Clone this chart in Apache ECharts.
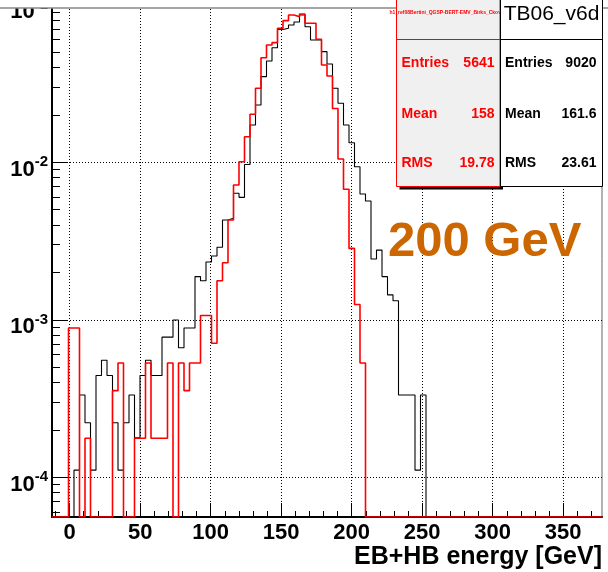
<!DOCTYPE html>
<html><head><meta charset="utf-8">
<script src="https://cdn.jsdelivr.net/npm/echarts@6/dist/echarts.min.js"></script>
<style>html,body{margin:0;padding:0;background:#fff}#c{width:608px;height:572px}</style>
</head><body><div id="c"></div>
<script>
// ---- binning / axes ----
const binStart = -12.5;
const binWidth = 3.9;
const xMin = -12.5, xMax = 377.5;
const yMin = 5.596e-5, yMax = 0.10727;
const xMajorTicks = [0, 50, 100, 150, 200, 250, 300, 350];
const xMinorTicks = [-10, 10, 20, 30, 40, 60, 70, 80, 90, 110, 120, 130, 140, 160, 170, 180, 190, 210, 220, 230, 240, 260, 270, 280, 290, 310, 320, 330, 340, 360, 370];
const yMajorTicks = [1e-4, 1e-3, 1e-2, 1e-1];
const yMinorTicks = [6e-5, 7e-5, 8e-5, 9e-5, 2e-4, 3e-4, 4e-4, 5e-4, 6e-4, 7e-4, 8e-4, 9e-4, 2e-3, 3e-3, 4e-3, 5e-3, 6e-3, 7e-3, 8e-3, 9e-3, 2e-2, 3e-2, 4e-2, 5e-2, 6e-2, 7e-2, 8e-2, 9e-2];

// ---- series values (normalised bin contents, bins 0..99) ----
const tb06Values = [
  0, 0, 0, 0, 1.11e-4, 3.33e-4, 2.22e-4, 1.11e-4, 4.43e-4, 5.54e-4,
  4.43e-4, 2.22e-4, 1.11e-4, 2.22e-4, 3.33e-4, 1.78e-4, 4.43e-4, 5.54e-4, 4.43e-4, 4.43e-4,
  7.76e-4, 7.76e-4, 9.98e-4, 6.65e-4, 8.87e-4, 8.87e-4, 1.88e-3, 1.77e-3, 2.33e-3, 2.54e-3,
  2.89e-3, 4.30e-3, 4.41e-3, 6.36e-3, 5.99e-3, 9.68e-3, 0.01725, 0.0231, 0.0350, 0.0440,
  0.0534, 0.0697, 0.0709, 0.0744, 0.0777, 0.0861, 0.0726, 0.0598, 0.0598, 0.0504,
  0.0421, 0.0295, 0.0237, 0.01725, 0.01332, 9.38e-3, 6.29e-3, 5.68e-3, 2.43e-3, 2.77e-3,
  1.88e-3, 1.44e-3, 1.32e-3, 3.33e-4, 3.33e-4, 3.33e-4, 1.11e-4, 3.33e-4, 0, 0,
  0, 0, 0, 0, 0, 0, 0, 0, 0, 0,
  0, 0, 0, 0, 0, 0, 0, 0, 0, 0,
  0, 0, 0, 0, 0, 0, 0, 0, 0, 0
];
const refValues = [
  0, 0, 0, 8.86e-4, 8.86e-4, 0, 1.77e-4, 0, 0, 0,
  0, 3.55e-4, 5.32e-4, 0, 0, 1.77e-4, 1.77e-4, 5.32e-4, 1.77e-4, 1.77e-4,
  1.77e-4, 5.32e-4, 0, 5.32e-4, 3.55e-4, 5.32e-4, 5.32e-4, 1.064e-3, 1.064e-3, 7.09e-4,
  1.77e-3, 2.30e-3, 4.30e-3, 7.18e-3, 0.01009, 0.01454, 0.02018, 0.0295, 0.0461, 0.0556,
  0.0575, 0.0709, 0.0793, 0.0861, 0.0840, 0.0874, 0.0763, 0.0763, 0.0604, 0.0415,
  0.0353, 0.02196, 0.0105, 6.74e-3, 2.84e-3, 1.25e-3, 5.32e-4, 0, 0, 0,
  0, 0, 0, 0, 0, 0, 0, 0, 0, 0,
  0, 0, 0, 0, 0, 0, 0, 0, 0, 0,
  0, 0, 0, 0, 0, 0, 0, 0, 0, 0,
  0, 0, 0, 0, 0, 0, 0, 0, 0, 0
];

// ---- stats text ----
const refStatsTitle = 'h1_ref08Bertini_QGSP-BERT-EMV_Birks_Ckov10';
const refStats = [['Entries', '5641'], ['Mean', '158'], ['RMS', '19.78']];
const tbStatsTitle = 'TB06_v6d';
const tbStats = [['Entries', '9020'], ['Mean', '161.6'], ['RMS', '23.61']];
const energyLabel = '200 GeV';
const xTitle = 'EB+HB energy [GeV]';

const FONT = "'Liberation Sans', Arial, Helvetica, sans-serif";

function histData(vals) {
  const d = vals.map((v, k) => [binStart + k * binWidth, v > 0 ? v : yMin]);
  const last = vals[vals.length - 1];
  d.push([binStart + vals.length * binWidth, last > 0 ? last : yMin]);
  return d;
}

const statRowsY = [63.5, 114.5, 163.5];
const graphics = [];
const ZL = 1;
// picture top edge
graphics.push({type: 'rect', zlevel: ZL, z: 90, shape: {x: 0, y: 0, width: 608, height: 8}, style: {fill: '#fff'}});
graphics.push({type: 'line', zlevel: ZL, z: 91, shape: {x1: 0, y1: 8, x2: 608, y2: 8}, style: {stroke: '#888', lineWidth: 1.5}});
// red stats box
graphics.push({type: 'rect', zlevel: ZL, z: 100, shape: {x: 399.5, y: -5, width: 103.5, height: 194.5}, style: {fill: '#000'}});
graphics.push({type: 'rect', zlevel: ZL, z: 101, shape: {x: 396.5, y: -5, width: 103.5, height: 191.5}, style: {fill: '#f0f0f0', stroke: '#ff0000', lineWidth: 1}});
graphics.push({type: 'line', zlevel: ZL, z: 102, shape: {x1: 396.5, y1: 39.5, x2: 500, y2: 39.5}, style: {stroke: '#ff0000', lineWidth: 1}});
graphics.push({type: 'text', zlevel: ZL, z: 103, style: {text: refStatsTitle, x: 448, y: 13, fill: '#ff0000', font: 'bold 5px ' + FONT, align: 'center', verticalAlign: 'middle'}});
refStats.forEach((r, i) => {
  graphics.push({type: 'text', zlevel: ZL, z: 103, style: {text: r[0], x: 401.5, y: statRowsY[i], fill: '#ff0000', font: 'bold 14px ' + FONT, align: 'left', verticalAlign: 'middle'}});
  graphics.push({type: 'text', zlevel: ZL, z: 103, style: {text: r[1], x: 494.5, y: statRowsY[i], fill: '#ff0000', font: 'bold 14px ' + FONT, align: 'right', verticalAlign: 'middle'}});
});
// black stats box
graphics.push({type: 'rect', zlevel: ZL, z: 104, shape: {x: 500.5, y: -5, width: 102, height: 191.5}, style: {fill: '#fff', stroke: '#000', lineWidth: 1}});
graphics.push({type: 'line', zlevel: ZL, z: 105, shape: {x1: 500.5, y1: 39.5, x2: 602.5, y2: 39.5}, style: {stroke: '#000', lineWidth: 1}});
graphics.push({type: 'text', zlevel: ZL, z: 106, style: {text: tbStatsTitle, x: 551.5, y: 14, fill: '#000', font: '21px ' + FONT, align: 'center', verticalAlign: 'middle'}});
tbStats.forEach((r, i) => {
  graphics.push({type: 'text', zlevel: ZL, z: 106, style: {text: r[0], x: 505, y: statRowsY[i], fill: '#000', font: 'bold 14px ' + FONT, align: 'left', verticalAlign: 'middle'}});
  graphics.push({type: 'text', zlevel: ZL, z: 106, style: {text: r[1], x: 596.5, y: statRowsY[i], fill: '#000', font: 'bold 14px ' + FONT, align: 'right', verticalAlign: 'middle'}});
});
graphics.push({type: 'text', zlevel: ZL, z: 106, style: {text: energyLabel, x: 388, y: 242, fill: '#cc6600', font: 'bold 49px ' + FONT, align: 'left', verticalAlign: 'middle'}});

const gridLine = {show: true, lineStyle: {color: '#000', width: 1, type: [1, 2]}};

const chart = echarts.init(document.getElementById('c'), null, {renderer: 'canvas'});
chart.setOption({
  animation: false,
  backgroundColor: '#fff',
  grid: {left: 52, right: 6, top: 0, bottom: 55, show: true, borderColor: '#666', borderWidth: 1, backgroundColor: 'transparent', containLabel: false, outerBoundsMode: 'none'},
  xAxis: [
    {
      type: 'value', min: xMin, max: xMax, position: 'bottom',
      axisLine: {show: true, onZero: false, lineStyle: {color: '#000', width: 2}},
      axisTick: {show: true, inside: true, length: 14, customValues: xMajorTicks, lineStyle: {color: '#000', width: 1}},
      axisLabel: {show: true, customValues: xMajorTicks, margin: 5, color: '#000', fontSize: 22, fontWeight: 'bold', fontFamily: FONT},
      splitLine: gridLine,
      name: xTitle, nameLocation: 'end', nameGap: 0,
      nameTextStyle: {color: '#000', fontSize: 25, fontWeight: 'bold', fontFamily: FONT, align: 'right', verticalAlign: 'top', padding: [28, 0, 0, 0]}
    },
    {
      type: 'value', min: xMin, max: xMax, position: 'bottom',
      axisLine: {show: false, onZero: false},
      axisTick: {show: true, inside: true, length: 6, customValues: xMinorTicks, lineStyle: {color: '#000', width: 1}},
      axisLabel: {show: false}, splitLine: {show: false}
    }
  ],
  yAxis: [
    {
      type: 'log', logBase: 10, min: yMin, max: yMax, position: 'left',
      axisLine: {show: true, onZero: false, lineStyle: {color: '#000', width: 2}},
      axisTick: {show: true, inside: true, length: 16, customValues: yMajorTicks, lineStyle: {color: '#000', width: 1}},
      axisLabel: {
        show: true, customValues: yMajorTicks, margin: 4, padding: [15, 0, 0, 0],
        formatter: v => '{b|10}{s|' + Math.round(Math.log10(v)) + '}',
        rich: {
          b: {fontSize: 22, fontWeight: 'bold', fontFamily: FONT, color: '#000', lineHeight: 30},
          s: {fontSize: 15, fontWeight: 'bold', fontFamily: FONT, color: '#000', lineHeight: 15, verticalAlign: 'top'}
        }
      },
      splitLine: gridLine
    },
    {
      type: 'log', logBase: 10, min: yMin, max: yMax, position: 'left',
      axisLine: {show: false, onZero: false},
      axisTick: {show: true, inside: true, length: 8, customValues: yMinorTicks, lineStyle: {color: '#000', width: 1}},
      axisLabel: {show: false}, splitLine: {show: false}
    }
  ],
  series: [
    {
      name: tbStatsTitle, type: 'line', step: 'end', xAxisIndex: 0, yAxisIndex: 0,
      data: histData(tb06Values), showSymbol: false, symbol: 'none', clip: true,
      lineStyle: {color: '#000', width: 1.1}, z: 2
    },
    {
      name: 'ref', type: 'line', step: 'end', xAxisIndex: 0, yAxisIndex: 0,
      data: histData(refValues), showSymbol: false, symbol: 'none', clip: true,
      lineStyle: {color: '#ff0000', width: 1.6}, z: 3
    }
  ],
  graphic: graphics
});
</script></body></html>
